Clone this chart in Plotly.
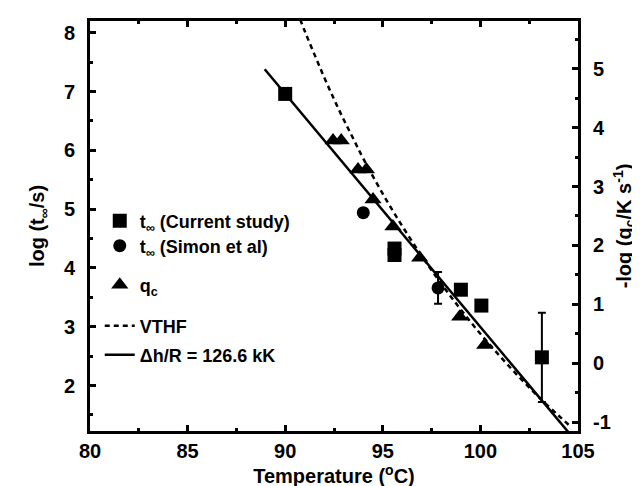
import plotly.graph_objects as go

# ---------------- data ----------------
# t_inf, current study (left axis, log t / s)
sq_T = [90.0, 95.6, 95.6, 99.0, 100.05, 103.15]
sq_v = [6.96, 4.22, 4.33, 3.63, 3.36, 2.48]
sq_err = [0.0, 0.0, 0.08, 0.0, 0.0, 0.76]

# t_inf, Simon et al (left axis)
ci_T = [94.0, 97.83]
ci_v = [4.94, 3.66]
ci_err = [0.0, 0.27]

# q_c (right axis, -log q / K s^-1)
tr_T = [92.45, 92.87, 93.73, 94.16, 94.5, 95.52, 96.89, 98.94, 100.22]
tr_v = [3.78, 3.78, 3.29, 3.29, 2.78, 2.32, 1.79, 0.79, 0.31]

# VTHF curve (left axis)
vt_T = [90.6, 91.0, 91.5, 92.0, 92.5, 93.0, 93.5, 94.0, 95.0, 96.0, 97.0,
        98.0, 99.0, 100.0, 101.0, 102.0, 103.0, 104.0, 104.6]
vt_v = [8.37, 8.03, 7.63, 7.24, 6.87, 6.52, 6.19, 5.86, 5.26, 4.71, 4.20,
        3.73, 3.29, 2.88, 2.50, 2.14, 1.80, 1.49, 1.31]

# Arrhenius line, dh/R = 126.6 kK (left axis), end points
ln_T = [88.95, 104.6]
ln_v = [7.38, 1.17]

x_ticks = [80, 85, 90, 95, 100, 105]
y_ticks = [2, 3, 4, 5, 6, 7, 8]
y2_ticks = [-1, 0, 1, 2, 3, 4, 5]

FONT = "Liberation Sans, Arial, sans-serif"
TICK_SIZE = 20
TITLE_SIZE = 20

fig = go.Figure()

fig.add_trace(go.Scatter(
    x=ln_T, y=ln_v, mode="lines", name="\u0394h/R = 126.6 kK",
    line=dict(color="black", width=2.5), legend="legend5"))
fig.add_trace(go.Scatter(
    x=vt_T, y=vt_v, mode="lines", name="VTHF",
    line=dict(color="black", width=2.5, dash="5px,4px", shape="spline"), legend="legend4"))

fig.add_trace(go.Scatter(
    x=sq_T, y=sq_v, mode="markers", name="t<sub>\u221e</sub> (Current study)",
    marker=dict(symbol="square", size=14, color="black"),
    error_y=dict(type="data", array=sq_err, visible=True, color="black", thickness=2, width=4),
    legend="legend"))
fig.add_trace(go.Scatter(
    x=ci_T, y=ci_v, mode="markers", name="t<sub>\u221e</sub> (Simon et al)",
    marker=dict(symbol="circle", size=13, color="black"),
    error_y=dict(type="data", array=ci_err, visible=True, color="black", thickness=2, width=4),
    legend="legend2"))
fig.add_trace(go.Scatter(
    x=tr_T, y=tr_v, mode="markers", name="q<sub>c</sub>", yaxis="y2",
    marker=dict(symbol="triangle-up", size=15, color="black"),
    legend="legend3"))

H = 410.0
T0 = 13.0
def py(p):
    return 1 - (p - T0) / H

def leg(ypix):
    return dict(x=0.02, xanchor="left", y=py(ypix), yanchor="middle",
                bgcolor="rgba(0,0,0,0)", borderwidth=0,
                font=dict(family=FONT, size=18, color="black", weight="bold"),
                itemwidth=30, tracegroupgap=0)

axis_common = dict(
    showline=True, linecolor="black", linewidth=3,
    ticks="inside", ticklen=6, tickwidth=2.5, tickcolor="black",
    showgrid=False, zeroline=False, automargin=False,
    tickfont=dict(family=FONT, size=TICK_SIZE, color="black", weight="bold"),
)
title_font = dict(family=FONT, size=TITLE_SIZE, color="black", weight="bold")

fig.update_layout(
    width=640, height=486,
    margin=dict(l=82, r=70, t=13, b=63, autoexpand=False),
    paper_bgcolor="white", plot_bgcolor="white",
    font=dict(family=FONT, size=18, color="black", weight="bold"),
    showlegend=True,
    legend=leg(213),
    legend2=leg(238),
    legend3=leg(277),
    legend4=leg(318),
    legend5=leg(347),
    xaxis=dict(
        range=[80, 105], tickvals=x_ticks, ticktext=[str(v) for v in x_ticks],
        mirror="ticks",
        minor=dict(dtick=2.5, tick0=80, ticks="inside", ticklen=3, tickwidth=2.5, tickcolor="black"),
        title=dict(text="Temperature (<sup>o</sup>C)", standoff=2, font=title_font),
        **axis_common),
    yaxis=dict(
        range=[1.227, 8.2], tickvals=y_ticks, ticktext=[str(v) for v in y_ticks],
        ticklabelstandoff=8,
        minor=dict(dtick=0.5, tick0=0, ticks="inside", ticklen=3, tickwidth=2.5, tickcolor="black"),
        title=dict(text="log (t<sub>\u221e</sub>/s)", standoff=14, font=title_font),
        **axis_common),
    yaxis2=dict(
        range=[-1.151, 5.81], tickvals=y2_ticks, ticktext=[str(v) for v in y2_ticks],
        overlaying="y", side="right", anchor="x",
        ticklabelstandoff=8,
        minor=dict(dtick=0.5, tick0=0, ticks="inside", ticklen=3, tickwidth=2.5, tickcolor="black"),
        title=dict(text="-log (q<sub>c</sub>/K s<sup>-1</sup>)", standoff=8, font=title_font),
        **axis_common),
)

fig.write_html("out.html")
